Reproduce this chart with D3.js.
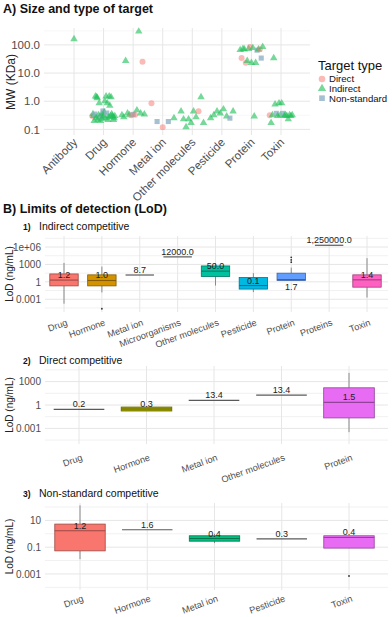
<!DOCTYPE html>
<html><head><meta charset="utf-8">
<script src="https://cdn.jsdelivr.net/npm/d3@7"></script>
<style>body{margin:0;background:#fff}svg{display:block}text{font-family:"Liberation Sans",Arial,sans-serif}</style>
</head><body><svg id="c" width="392" height="617"></svg>
<script>
// ---------- Panel A data ----------
const mwCategories = ["Antibody","Drug","Hormone","Metal ion","Other molecules","Pesticide","Protein","Toxin"];
const mwTicks = [0.1, 1, 10, 100];
const mwTickLabels = ["0.1","1.0","10.0","100.0"];
const targetTypes = ["Direct","Indirect","Non-standard"];
// [category, type (D/I/N), MW in kDa], listed left-to-right within each category
const targetPoints = [
 ["Antibody","I",160],
 ["Drug","D",0.3],["Drug","I",0.35],["Drug","I",0.3],["Drug","I",0.2],["Drug","N",0.35],["Drug","I",1.5],["Drug","I",0.25],["Drug","I",1.4],["Drug","I",1.3],["Drug","I",0.22],["Drug","I",0.32],["Drug","I",0.85],["Drug","I",0.28],["Drug","I",0.2],["Drug","N",0.3],["Drug","I",0.35],["Drug","I",0.24],["Drug","N",0.45],["Drug","I",0.3],["Drug","I",0.4],["Drug","I",1.0],["Drug","I",0.25],["Drug","I",1.5],["Drug","N",0.38],["Drug","I",0.85],["Drug","I",0.22],["Drug","I",0.27],["Drug","I",1.5],["Drug","I",0.7],["Drug","I",0.3],["Drug","I",1.4],["Drug","I",0.35],["Drug","I",0.3],["Drug","I",0.28],["Drug","I",0.22],["Drug","I",0.25],["Drug","I",0.3],
 ["Hormone","I",0.32],["Hormone","I",0.27],["Hormone","I",27],["Hormone","I",0.37],["Hormone","I",0.32],["Hormone","D",0.32],["Hormone","N",0.34],["Hormone","D",0.33],["Hormone","I",0.48],["Hormone","I",300],["Hormone","I",0.37],["Hormone","D",25],["Hormone","I",0.34],
 ["Metal ion","D",0.85],["Metal ion","N",0.19],["Metal ion","D",0.12],["Metal ion","N",0.19],["Metal ion","I",0.25],
 ["Other molecules","I",0.44],["Other molecules","I",0.23],["Other molecules","I",0.12],["Other molecules","I",0.23],["Other molecules","I",0.17],["Other molecules","I",0.44],["Other molecules","I",0.27],["Other molecules","D",0.44],["Other molecules","I",1.4],["Other molecules","I",0.17],
 ["Pesticide","I",0.25],["Pesticide","I",0.32],["Pesticide","I",0.44],["Pesticide","I",0.37],["Pesticide","I",0.52],["Pesticide","I",0.29],["Pesticide","N",0.25],["Pesticide","I",0.44],
 ["Protein","I",66],["Protein","D",34],["Protein","I",72],["Protein","I",70],["Protein","D",23],["Protein","I",27],["Protein","I",72],["Protein","D",85],["Protein","I",23],["Protein","I",78],["Protein","I",0.29],["Protein","I",23],["Protein","N",65],["Protein","I",70],["Protein","D",70],["Protein","N",34],["Protein","I",85],
 ["Toxin","D",0.32],["Toxin","I",0.17],["Toxin","I",0.32],["Toxin","I",34],["Toxin","I",0.78],["Toxin","N",0.37],["Toxin","I",0.3],["Toxin","I",0.85],["Toxin","I",0.32],["Toxin","I",0.85],["Toxin","N",0.37],["Toxin","I",0.3],["Toxin","I",0.32],["Toxin","I",0.3],["Toxin","I",0.23],["Toxin","I",0.32],["Toxin","I",0.3],["Toxin","I",0.32]
];

// ---------- Panel B data ----------
const pal9 = ["#F8766D","#D39200","#93AA00","#00BA38","#00C19F","#00B9E3","#619CFF","#DB72FB","#FF61C3"];
const pal5 = ["#F8766D","#A3A500","#00BF7D","#00B0F6","#E76BF3"];
const lodTicks1 = [0.001, 1, 1000, 1e6], lodTickLabels1 = ["0.001","1","1000","1e+06"];
const lodTicks2 = [0.001, 1, 1000], lodTickLabels2 = ["0.001","1","1000"];
const lodTicks3 = [0.001, 0.1, 10], lodTickLabels3 = ["0.001","0.1","10"];

const indCats = ["Drug","Hormone","Metal ion","Microorganisms","Other molecules","Pesticide","Protein","Proteins","Toxin"];
const indLow  = [1.7e-4, 0.015, 15, 20000, 0.23, 0.017, 1.7, 2e6, 0.002];
const indQ1   = [0.2, 0.2, 15, 20000, 8, 0.056, 1.7, 2e6, 0.12];
const indMed  = [2.0, 1.7, 15, 20000, 69, 0.23, 2.5, 2e6, 2.2];
const indQ3   = [23, 16, 15, 20000, 550, 5.5, 31, 2e6, 16];
const indHigh = [1800, 420, 15, 20000, 1600, 31, 280, 2e6, 12000];
const indOut  = [[], [2.3e-5], [], [], [], [], [17000, 5900, 2400], [], []];
const indLabels = ["1.2","1.0","8.7","12000.0","50.0","0.1","1.7","1,250000.0","1.4"];
const indLabelBelow = [0,0,0,0,0,0,1,0,0];

const dirCats = ["Drug","Hormone","Metal ion","Other molecules","Protein"];
const dirLow  = [0.28, 0.17, 4, 19, 3.3e-4];
const dirQ1   = [0.28, 0.17, 4, 19, 0.022];
const dirMed  = [0.28, 0.31, 4, 19, 2.2];
const dirQ3   = [0.28, 0.55, 4, 19, 160];
const dirHigh = [0.28, 0.55, 4, 19, 13000];
const dirOut  = [[],[],[],[],[]];
const dirLabels = ["0.2","0.3","13.4","13.4","1.5"];

const nsCats = ["Drug","Hormone","Metal ion","Pesticide","Toxin"];
const nsLow  = [0.0126, 2, 0.2, 0.42, 0.085];
const nsQ1   = [0.053, 2, 0.28, 0.42, 0.085];
const nsMed  = [1.7, 2, 0.44, 0.42, 0.53];
const nsQ3   = [5.3, 2, 0.71, 0.42, 0.71];
const nsHigh = [133, 2, 1.0, 0.42, 0.75];
const nsOut  = [[],[],[],[],[7e-4]];
const nsLabels = ["1.2","1.6","0.4","0.3","0.4"];

// ---------- drawing ----------
const svg = d3.select("#c");
const axisCol = "#4d4d4d", gridMaj = "#e6e6e6", gridMin = "#f1f1f1";

// Title A
svg.append("text").attr("x",3).attr("y",13).attr("font-size",12.5).attr("font-weight","bold").attr("fill","#111").text("A) Size and type of target");

const xA = d3.scalePoint().domain(mwCategories).range([74, 281]);
const yA = d3.scaleLog().domain([Math.pow(10,-1.2), Math.pow(10,2.6)]).range([135, 28]);
const gA = svg.append("g");
const gridA = d3.range(-1, 2.51, 0.5).map(e => Math.pow(10, e));
gA.selectAll(".hg").data(gridA).join("line").attr("x1",44).attr("x2",310)
  .attr("y1",d=>yA(d)).attr("y2",d=>yA(d))
  .attr("stroke",(d,i)=> i%2===0 ? gridMaj : gridMin).attr("stroke-width",(d,i)=> i%2===0?1:0.6);
gA.selectAll(".vg").data(mwCategories).join("line").attr("x1",d=>xA(d)).attr("x2",d=>xA(d))
  .attr("y1",28).attr("y2",135).attr("stroke",gridMaj);
// y axis
const axA = d3.axisLeft(yA).tickValues(mwTicks).tickFormat((d,i)=>mwTickLabels[i]).tickSize(0).tickPadding(4);
const gAxA = svg.append("g").attr("transform","translate(44,0)").call(axA);
gAxA.select(".domain").remove();
gAxA.selectAll("text").attr("font-size",11.5).attr("fill",axisCol).attr("font-family","Liberation Sans, Arial, sans-serif");
svg.append("text").attr("transform","translate(15,82) rotate(-90)").attr("text-anchor","middle").attr("font-size",12).attr("fill","#222").text("MW (KDa)");
// x labels
svg.append("g").selectAll("text").data(mwCategories).join("text")
  .attr("transform",d=>`translate(${xA(d)+4},143) rotate(-45)`).attr("text-anchor","end")
  .attr("font-size",11.5).attr("fill",axisCol).text(d=>d);

// points with even spread by order within category
const step = xA.step();
const byCat = d3.group(targetPoints, d=>d[0]);
const typeStyle = {
  D:{sym:d3.symbolCircle, size:28, fill:"#F8766D", op:0.5},
  I:{sym:d3.symbolTriangle, size:24, fill:"#22c05a", op:0.62},
  N:{sym:d3.symbolSquare, size:26, fill:"#8fb0c4", op:0.8}
};
const ptData = [];
byCat.forEach((arr, cat) => {
  const n = arr.length;
  arr.forEach((p, i) => {
    const off = n === 1 ? 0 : (-0.38 + 0.76 * i / (n - 1)) * step;
    ptData.push({cat, type:p[1], mw:p[2], off});
  });
});
gA.selectAll(".pt").data(ptData).join("path")
  .attr("transform", d=>`translate(${xA(d.cat)+d.off},${yA(d.mw)})`)
  .attr("d", d=>d3.symbol(typeStyle[d.type].sym, typeStyle[d.type].size)())
  .attr("fill", d=>typeStyle[d.type].fill).attr("fill-opacity", d=>typeStyle[d.type].op);

// legend
const lg = svg.append("g");
lg.append("text").attr("x",318).attr("y",70).attr("font-size",13).attr("fill","#111").text("Target type");
["D","I","N"].forEach((t,i)=>{
  const yy = 79 + i*9.6;
  lg.append("path").attr("transform",`translate(322,${yy})`).attr("d",d3.symbol(typeStyle[t].sym, typeStyle[t].size+6)())
    .attr("fill",typeStyle[t].fill).attr("fill-opacity",typeStyle[t].op);
  lg.append("text").attr("x",329).attr("y",yy+3.3).attr("font-size",9.6).attr("fill","#111").text(targetTypes[i]);
});

// Title B
svg.append("text").attr("x",3).attr("y",213).attr("font-size",12.5).attr("font-weight","bold").attr("fill","#111").text("B) Limits of detection (LoD)");

function boxPanel(o){
  const g = svg.append("g");
  // subtitle
  g.append("text").attr("x",23).attr("y",o.titleY).attr("font-size",8.5).attr("font-weight","bold").attr("fill","#111").text(o.num);
  g.append("text").attr("x",39).attr("y",o.titleY).attr("font-size",10.5).attr("fill","#111").text(o.title);
  const x = d3.scalePoint().domain(o.cats).range(o.xRange);
  const y = d3.scaleLog().domain(o.yDomain).range(o.yRange);
  const bw = x.step()*0.75;
  // grid
  g.selectAll(".hg").data(o.grid).join("line").attr("x1",45).attr("x2",388)
    .attr("y1",d=>y(d)).attr("y2",d=>y(d))
    .attr("stroke",d=> o.ticks.some(t=>Math.abs(Math.log10(t)-Math.log10(d))<1e-6) ? gridMaj : gridMin);
  g.selectAll(".vg").data(o.cats).join("line").attr("x1",d=>x(d)).attr("x2",d=>x(d))
    .attr("y1",o.yRange[1]).attr("y2",o.yRange[0]).attr("stroke",gridMaj);
  // y axis
  const ax = d3.axisLeft(y).tickValues(o.ticks).tickFormat((d,i)=>o.tickLabels[i]).tickSize(0).tickPadding(3);
  const ga = g.append("g").attr("transform","translate(44,0)").call(ax);
  ga.select(".domain").remove();
  ga.selectAll("text").attr("font-size",10).attr("fill",axisCol).attr("font-family","Liberation Sans, Arial, sans-serif");
  const mid = (o.yRange[0]+o.yRange[1])/2;
  g.append("text").attr("transform",`translate(13,${mid}) rotate(-90)`).attr("text-anchor","middle").attr("font-size",10).attr("fill","#222").text("LoD (ng/mL)");
  // x labels
  g.selectAll(".xl").data(o.cats).join("text")
    .attr("transform",d=>`translate(${x(d)+4},${o.xLabelY}) rotate(-20)`).attr("text-anchor","end")
    .attr("font-size",9.2).attr("fill",axisCol).text(d=>d);
  // boxes
  o.cats.forEach((c,i)=>{
    const cx = x(c), col = o.colors[i], dark = d3.color(col).darker(1.3).formatHex();
    if (o.q1[i] === o.q3[i]) {
      g.append("line").attr("x1",cx-bw/2).attr("x2",cx+bw/2).attr("y1",y(o.med[i])).attr("y2",y(o.med[i]))
        .attr("stroke","#5a5a5a").attr("stroke-width",1.2);
    } else {
      g.append("line").attr("x1",cx).attr("x2",cx).attr("y1",y(o.high[i])).attr("y2",y(o.q3[i])).attr("stroke","#8a8a8a");
      g.append("line").attr("x1",cx).attr("x2",cx).attr("y1",y(o.q1[i])).attr("y2",y(o.low[i])).attr("stroke","#8a8a8a");
      g.append("rect").attr("x",cx-bw/2).attr("width",bw).attr("y",y(o.q3[i])).attr("height",y(o.q1[i])-y(o.q3[i]))
        .attr("fill",col).attr("stroke",dark).attr("stroke-width",0.8);
      g.append("line").attr("x1",cx-bw/2).attr("x2",cx+bw/2).attr("y1",y(o.med[i])).attr("y2",y(o.med[i]))
        .attr("stroke",dark).attr("stroke-width",1.1);
    }
    o.out[i].forEach(v=> g.append("circle").attr("cx",cx).attr("cy",y(v)).attr("r",0.9).attr("fill","#333"));
    const below = o.below && o.below[i];
    g.append("text").attr("x",cx).attr("y", below ? y(o.q1[i])+10 : y(o.med[i])-2)
      .attr("text-anchor","middle").attr("font-size",9).attr("fill","#222").text(o.labels[i]);
  });
}
const halfGrid = (a,b)=> d3.range(a, b+0.01, 1.5).map(e=>Math.pow(10,e));

boxPanel({num:"1)", title:"Indirect competitive", titleY:230, cats:indCats, xRange:[64,367],
  yDomain:[Math.pow(10,-5.2), Math.pow(10,7.9)], yRange:[312,236],
  ticks:lodTicks1, tickLabels:lodTickLabels1, grid:halfGrid(-4.5,7.5),
  low:indLow, q1:indQ1, med:indMed, q3:indQ3, high:indHigh, out:indOut, labels:indLabels, below:indLabelBelow,
  colors:pal9, xLabelY:325});
boxPanel({num:"2)", title:"Direct competitive", titleY:364, cats:dirCats, xRange:[79,349],
  yDomain:[1e-5, 1e5], yRange:[444,366],
  ticks:lodTicks2, tickLabels:lodTickLabels2, grid:halfGrid(-4.5,4.5),
  low:dirLow, q1:dirQ1, med:dirMed, q3:dirQ3, high:dirHigh, out:dirOut, labels:dirLabels,
  colors:pal5, xLabelY:460});
boxPanel({num:"3)", title:"Non-standard competitive", titleY:497, cats:nsCats, xRange:[80,349],
  yDomain:[Math.pow(10,-4.2), Math.pow(10,2.3)], yRange:[590,503],
  ticks:lodTicks3, tickLabels:lodTickLabels3, grid:d3.range(-4,2.01,1).map(e=>Math.pow(10,e)),
  low:nsLow, q1:nsQ1, med:nsMed, q3:nsQ3, high:nsHigh, out:nsOut, labels:nsLabels,
  colors:pal5, xLabelY:601});
</script></body></html>
